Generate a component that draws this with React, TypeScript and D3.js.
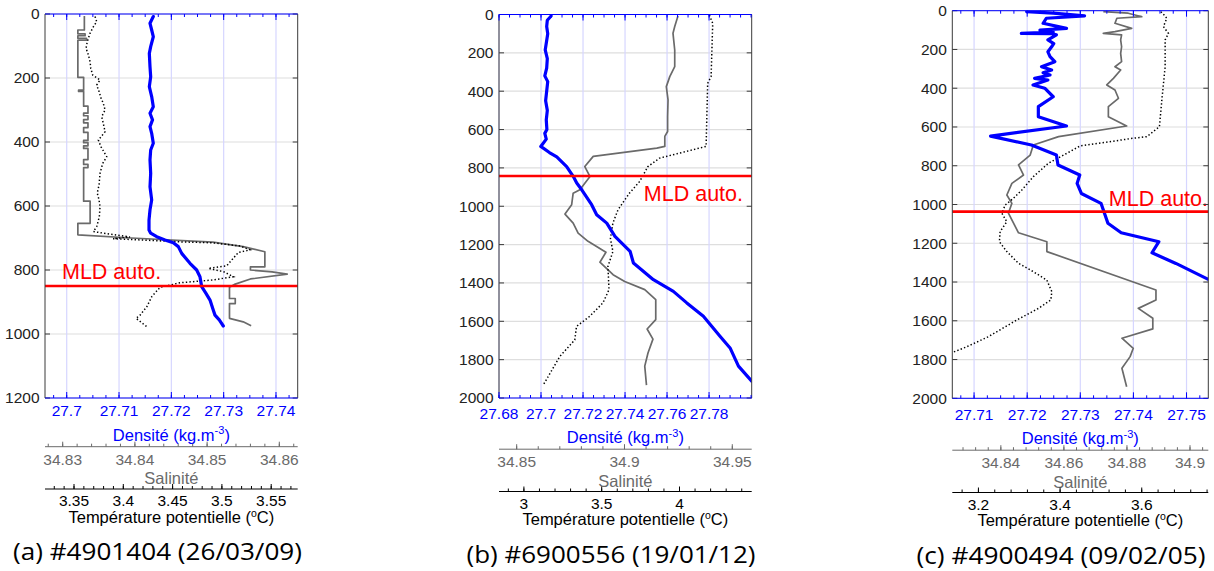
import React from 'react';
import * as d3 from 'd3';

// ---------------- DATA ----------------
// Panel (a) #4901404 : [depth (m), value]
const densA: [number, number][] = [
  [8, 27.71655], [29, 27.71592], [50, 27.71624], [71, 27.71655], [102, 27.71605], [123, 27.71579],
  [165, 27.71592], [196, 27.71605], [227, 27.71579], [258, 27.71624], [290, 27.71655], [310, 27.71592],
  [331, 27.7164], [352, 27.71592], [373, 27.71624], [404, 27.71655], [425, 27.71605], [456, 27.71592],
  [498, 27.71605], [540, 27.71592], [581, 27.71624], [612, 27.71592], [644, 27.71573], [675, 27.71573],
  [685, 27.71605], [696, 27.7172], [706, 27.71878], [715, 27.72037], [727, 27.72133], [748, 27.72198],
  [779, 27.72356], [800, 27.72484], [821, 27.72547], [852, 27.7258], [873, 27.72662], [894, 27.72739],
  [925, 27.72801], [941, 27.72834], [956, 27.72916], [975, 27.72993],
];
const salA: [number, number][] = [
  [6, 34.8330], [50, 34.8330], [50, 34.8321], [62, 34.8321], [62, 34.8331], [68, 34.8331], [68, 34.8321],
  [76, 34.8321], [76, 34.8333], [82, 34.8333], [82, 34.8321], [198, 34.8321], [198, 34.8329],
  [238, 34.8329], [238, 34.8322], [242, 34.8322], [242, 34.8329], [288, 34.8329], [288, 34.8335],
  [310, 34.8335], [310, 34.8329], [318, 34.8329], [318, 34.8335], [330, 34.8335], [330, 34.8329],
  [340, 34.8329], [340, 34.8335], [355, 34.8335], [355, 34.8329], [370, 34.8329], [370, 34.8335],
  [395, 34.8335], [395, 34.8329], [402, 34.8329], [402, 34.8335], [412, 34.8335], [412, 34.8329],
  [420, 34.8329], [420, 34.8335], [455, 34.8335], [455, 34.8329], [470, 34.8329], [470, 34.8335],
  [480, 34.8335], [480, 34.8329], [585, 34.8329], [585, 34.8338], [654, 34.8338], [654, 34.8321],
  [690, 34.8321], [700, 34.8395], [713, 34.8508], [727, 34.8550], [743, 34.8580], [790, 34.8580],
  [790, 34.8560], [800, 34.8560], [806, 34.8590], [813, 34.8611], [828, 34.8560], [844, 34.8539],
  [854, 34.8531], [889, 34.8531], [889, 34.8539], [905, 34.8539], [905, 34.8531], [951, 34.8531],
  [962, 34.8550], [974, 34.8561],
];
const tempA: [number, number][] = [
  [8, 3.3713], [24, 3.3730], [40, 3.3696], [60, 3.3663], [86, 3.3635], [107, 3.3622], [128, 3.3646],
  [149, 3.3663], [170, 3.3670], [191, 3.3690], [206, 3.3764], [222, 3.3730], [242, 3.3754],
  [263, 3.3774], [279, 3.3797], [300, 3.3815], [321, 3.3781], [342, 3.3797], [368, 3.3815],
  [394, 3.3747], [415, 3.3774], [446, 3.3832], [467, 3.3791], [498, 3.3764], [534, 3.3754],
  [560, 3.3736], [581, 3.3754], [602, 3.3764], [633, 3.3757], [665, 3.3730], [680, 3.3696],
  [697, 3.4068], [702, 3.3896], [712, 3.4575], [715, 3.4910], [725, 3.5185], [737, 3.5285],
  [745, 3.5167], [787, 3.5049], [795, 3.4863], [805, 3.5015], [821, 3.5116], [831, 3.4913],
  [840, 3.4575], [854, 3.4373], [883, 3.4289], [915, 3.4238], [941, 3.4170], [951, 3.4129],
  [977, 3.4238],
];

// Panel (b) #6900556
const densB: [number, number][] = [
  [8, 27.7048], [30, 27.7030], [63, 27.7027], [100, 27.7032], [150, 27.7025], [185, 27.7020],
  [230, 27.7030], [280, 27.7027], [320, 27.7018], [350, 27.7032], [400, 27.7027], [450, 27.7022],
  [500, 27.7030], [550, 27.7025], [600, 27.7028], [620, 27.7018], [650, 27.7025], [688, 27.6999],
  [720, 27.7040], [743, 27.7075], [793, 27.7122], [845, 27.7154], [879, 27.7170], [914, 27.7194],
  [992, 27.7241], [1044, 27.7265], [1088, 27.7313], [1157, 27.7352], [1235, 27.7424], [1296, 27.7440],
  [1383, 27.7535], [1444, 27.7630], [1504, 27.7694], [1574, 27.7773], [1678, 27.7852], [1739, 27.7900],
  [1834, 27.7940], [1912, 27.8003],
];
const salB: [number, number][] = [
  [8, 34.9248], [63, 34.9233], [98, 34.9225], [185, 34.9233], [272, 34.9233], [324, 34.9210],
  [376, 34.9194], [445, 34.9202], [532, 34.9200], [610, 34.9200], [636, 34.9187], [688, 34.9187],
  [697, 34.9150], [740, 34.8855], [793, 34.8816], [845, 34.8840], [914, 34.8793], [932, 34.8762],
  [992, 34.8755], [1041, 34.8724], [1088, 34.8762], [1140, 34.8785], [1183, 34.8831], [1240, 34.8914],
  [1292, 34.8886], [1357, 34.8947], [1392, 34.9001], [1435, 34.9094], [1487, 34.9145], [1591, 34.9145],
  [1640, 34.9105], [1693, 34.9132], [1765, 34.9109], [1834, 34.9094], [1933, 34.9102],
];
const tempB: [number, number][] = [
  [3, 4.192], [46, 4.2135], [324, 4.203], [359, 4.181], [688, 4.171], [749, 3.872], [793, 3.797],
  [871, 3.744], [931, 3.679], [1018, 3.605], [1088, 3.572], [1168, 3.556], [1236, 3.572],
  [1314, 3.540], [1435, 3.547], [1504, 3.508], [1574, 3.423], [1627, 3.338], [1697, 3.327],
  [1783, 3.231], [1933, 3.124],
];

// Panel (c) #4900494
const densC: [number, number][] = [
  [5, 27.7199], [13, 27.7249], [27, 27.7308], [39, 27.7236], [65, 27.7230], [91, 27.7274],
  [100, 27.7224], [110, 27.7249], [117, 27.7189], [118, 27.7245], [125, 27.7255], [151, 27.7239],
  [170, 27.7250], [186, 27.7246], [212, 27.7239], [237, 27.7243], [263, 27.7252], [289, 27.7227],
  [306, 27.7246], [320, 27.7230], [332, 27.7243], [349, 27.7214], [358, 27.7239], [383, 27.7211],
  [400, 27.7233], [444, 27.7249], [495, 27.7221], [547, 27.7221], [595, 27.7274], [647, 27.7131],
  [693, 27.7208], [745, 27.7255], [796, 27.7258], [848, 27.7299], [891, 27.7294], [943, 27.7302],
  [994, 27.7339], [1097, 27.7352], [1146, 27.7377], [1192, 27.7448], [1249, 27.7435], [1304, 27.7480],
  [1385, 27.7540],
];
const salC: [number, number][] = [
  [5, 34.8725], [13, 34.8804], [31, 34.8847], [39, 34.8768], [65, 34.8762], [91, 34.8815],
  [108, 34.8762], [117, 34.8725], [125, 34.8783], [151, 34.8780], [186, 34.8783], [220, 34.8780],
  [263, 34.8783], [289, 34.8762], [306, 34.8780], [349, 34.8757], [383, 34.8736], [409, 34.8762],
  [452, 34.8773], [495, 34.8741], [547, 34.8741], [595, 34.8799], [650, 34.8583], [693, 34.8503],
  [745, 34.8493], [796, 34.8456], [848, 34.8472], [891, 34.8435], [951, 34.8419], [994, 34.8435],
  [1045, 34.8424], [1146, 34.8456], [1192, 34.8546], [1243, 34.8546], [1441, 34.8892], [1493, 34.8892],
  [1536, 34.8836], [1587, 34.8882], [1642, 34.8882], [1690, 34.8784], [1742, 34.8820], [1785, 34.8810],
  [1845, 34.8784], [1940, 34.8799],
];
const tempC: [number, number][] = [
  [5, 3.6467], [22, 3.6548], [39, 3.6614], [82, 3.6531], [117, 3.6653], [151, 3.6573], [289, 3.6573],
  [461, 3.6492], [598, 3.6433], [650, 3.6125], [658, 3.5796], [698, 3.4491], [736, 3.4165],
  [787, 3.3714], [856, 3.3347], [925, 3.3063], [968, 3.2857], [1003, 3.2654], [1045, 3.2573],
  [1089, 3.2695], [1140, 3.2531], [1192, 3.2514], [1243, 3.2695], [1303, 3.2980], [1347, 3.3347],
  [1390, 3.3675], [1450, 3.3798], [1493, 3.3773], [1536, 3.3470], [1596, 3.2940], [1682, 3.2245],
  [1734, 3.1716], [1765, 3.1349],
];

// MLD depths
const mldDepths = [850, 842, 1037];

// Tick labels
const depthTicksA = [0, 200, 400, 600, 800, 1000, 1200];
const depthTicksBC = [0, 200, 400, 600, 800, 1000, 1200, 1400, 1600, 1800, 2000];
const densTicksA = [27.7, 27.71, 27.72, 27.73, 27.74];
const densTicksB = [27.68, 27.7, 27.72, 27.74, 27.76, 27.78];
const densTicksC = [27.71, 27.72, 27.73, 27.74, 27.75];
const salTicksA = [34.83, 34.84, 34.85, 34.86];
const salTicksB = [34.85, 34.9, 34.95];
const salTicksC = [34.84, 34.86, 34.88, 34.9];
const tempTicksA = [3.35, 3.4, 3.45, 3.5, 3.55];
const tempTicksB = [3, 3.5, 4];
const tempTicksC = [3.2, 3.4, 3.6];
const captions = ['(a) #4901404 (26/03/09)', '(b) #6900556 (19/01/12)', '(c) #4900494 (09/02/05)'];

// ---------------- LAYOUT ----------------
type Cfg = {
  left: number; right: number; top: number; bottom: number; dy: number;
  maxDepth: number; depthTicks: number[];
  densDom: [number, number]; densTicks: number[]; densMinor: number;
  salDom: [number, number]; salTicks: number[]; salMinor: number;
  tempDom: [number, number]; tempTicks: number[]; tempMinor: number;
  dens: [number, number][]; sal: [number, number][]; temp: [number, number][];
  mld: number; mldX: number; mldY: number; mldAnchor: 'start' | 'end';
  caption: string; capX: number;
};

const panels: Cfg[] = [
  {
    left: 45, right: 297.7, top: 14, bottom: 398, dy: 0, maxDepth: 1200, depthTicks: depthTicksA,
    densDom: [27.69585, 27.74415], densTicks: densTicksA, densMinor: 0.0025,
    salDom: [34.83 - 17.7 / 7220, 34.83 + 235 / 7220], salTicks: salTicksA, salMinor: 0.002,
    tempDom: [3.35 - 29 / 986, 3.35 + 223.7 / 986], tempTicks: tempTicksA, tempMinor: 0.01,
    dens: densA, sal: salA, temp: tempA,
    mld: mldDepths[0], mldX: 62, mldY: 278.5, mldAnchor: 'start', caption: captions[0], capX: 157.5,
  },
  {
    left: 499, right: 751.7, top: 14.5, bottom: 398, dy: 2.5, maxDepth: 2000, depthTicks: depthTicksBC,
    densDom: [27.68, 27.8003], densTicks: densTicksB, densMinor: 0.005,
    salDom: [34.8418, 34.959], salTicks: salTicksB, salMinor: 0.01,
    tempDom: [2.84, 4.464], tempTicks: tempTicksB, tempMinor: 0.1,
    dens: densB, sal: salB, temp: tempB,
    mld: mldDepths[1], mldX: 743, mldY: 200.5, mldAnchor: 'end', caption: captions[1], capX: 611,
  },
  {
    left: 952.3, right: 1208.3, top: 10.7, bottom: 398.3, dy: 3.5, maxDepth: 2000, depthTicks: depthTicksBC,
    densDom: [27.7059, 27.7541], densTicks: densTicksC, densMinor: 0.0025,
    salDom: [34.8246, 34.9058], salTicks: salTicksC, salMinor: 0.004,
    tempDom: [3.136, 3.763], tempTicks: tempTicksC, tempMinor: 0.04,
    dens: densC, sal: salC, temp: tempC,
    mld: mldDepths[2], mldX: 1208, mldY: 206, mldAnchor: 'end', caption: captions[2], capX: 1061,
  },
];

const FONT = '"Liberation Sans", Arial, Helvetica, sans-serif';
const BLUE = '#0000ff';
const GRAY = '#6a6a6a';
const AXIS = '#3a3a3a';
const TICK_FS = 15.5;
const LABEL_FS = 16.5;

function minorTicks(dom: [number, number], step: number): number[] {
  const out: number[] = [];
  const start = Math.ceil(dom[0] / step - 1e-6);
  for (let k = start; k * step <= dom[1] + 1e-9; k++) out.push(+(k * step).toFixed(6));
  return out;
}

function fmt(v: number) {
  return String(+v.toFixed(4));
}

const Panel: React.FC<{ c: Cfg; idx: number }> = ({ c, idx }) => {
  const y = d3.scaleLinear().domain([0, c.maxDepth]).range([c.top, c.bottom]);
  const xD = d3.scaleLinear().domain(c.densDom).range([c.left, c.right]);
  const xS = d3.scaleLinear().domain(c.salDom).range([c.left, c.right]);
  const xT = d3.scaleLinear().domain(c.tempDom).range([c.left, c.right]);
  const lineD = d3.line<[number, number]>().x((d) => xD(d[1])).y((d) => y(d[0]));
  const lineS = d3.line<[number, number]>().x((d) => xS(d[1])).y((d) => y(d[0]));
  const lineT = d3.line<[number, number]>().x((d) => xT(d[1])).y((d) => y(d[0]));
  const clipId = `clip${idx}`;
  const dy = c.dy;
  const yDensLab = 416.3 + dy;
  const yDensTitle = 440.5 + dy;
  const ySalAxis = 446.7 + dy;
  const ySalLab = 464.5 + dy;
  const ySalTitle = 484.3 + dy;
  const yTempAxis = 489 + dy;
  const yTempLab = 506 + dy;
  const yTempTitle = 522.5 + dy;
  const yCap = 560 + dy;
  const midX = (c.left + c.right) / 2;
  const dMinor = minorTicks(c.densDom, c.densMinor);
  const sMinor = minorTicks(c.salDom, c.salMinor);
  const tMinor = minorTicks(c.tempDom, c.tempMinor);
  return (
    <g fontFamily={FONT}>
      <defs>
        <clipPath id={clipId}>
          <rect x={c.left} y={c.top} width={c.right - c.left} height={c.bottom - c.top} />
        </clipPath>
      </defs>
      {/* grid */}
      {c.depthTicks.map((t) => (
        <line key={'hg' + t} x1={c.left} x2={c.right} y1={y(t)} y2={y(t)} stroke="#dedede" strokeWidth={1.2} />
      ))}
      {c.densTicks.map((t) => (
        <line key={'vg' + t} x1={xD(t)} x2={xD(t)} y1={c.top} y2={c.bottom} stroke="#d6d6ff" strokeWidth={1.2} />
      ))}
      {/* data */}
      <g clipPath={`url(#${clipId})`}>
        <path d={lineS(c.sal) || ''} fill="none" stroke={GRAY} strokeWidth={1.7} strokeLinejoin="round" />
        <path d={lineT(c.temp) || ''} fill="none" stroke="#000" strokeWidth={1.5} strokeDasharray="1.4 2.2" />
        <path d={lineD(c.dens) || ''} fill="none" stroke={BLUE} strokeWidth={3.2} strokeLinejoin="round" strokeLinecap="round" />
      </g>
      {/* MLD */}
      <line x1={c.left} x2={c.right} y1={y(c.mld)} y2={y(c.mld)} stroke="#ff0000" strokeWidth={2.6} />
      <text x={c.mldX} y={c.mldY} fill="#ff0000" fontSize={21.5} textAnchor={c.mldAnchor}>MLD auto.</text>
      {/* frame: left & right */}
      <line x1={c.left} x2={c.left} y1={c.top} y2={c.bottom} stroke={AXIS} strokeWidth={1} />
      <line x1={c.right} x2={c.right} y1={c.top} y2={c.bottom} stroke={AXIS} strokeWidth={1} />
      {c.depthTicks.map((t) => (
        <g key={'dt' + t}>
          <line x1={c.left} x2={c.left + 5} y1={y(t)} y2={y(t)} stroke={AXIS} />
          <line x1={c.right} x2={c.right - 5} y1={y(t)} y2={y(t)} stroke={AXIS} />
          <text x={c.left - 5.5} y={y(t)} dy="0.35em" textAnchor="end" fontSize={TICK_FS} fill="#222">{t}</text>
        </g>
      ))}
      {/* density axis top & bottom */}
      <line x1={c.left} x2={c.right} y1={c.top} y2={c.top} stroke={BLUE} strokeWidth={1} />
      <line x1={c.left} x2={c.right} y1={c.bottom} y2={c.bottom} stroke={BLUE} strokeWidth={1} />
      {dMinor.map((t) => (
        <g key={'dm' + t}>
          <line x1={xD(t)} x2={xD(t)} y1={c.top} y2={c.top + 3} stroke={BLUE} />
          <line x1={xD(t)} x2={xD(t)} y1={c.bottom} y2={c.bottom - 3} stroke={BLUE} />
        </g>
      ))}
      {c.densTicks.map((t) => (
        <g key={'dM' + t}>
          <line x1={xD(t)} x2={xD(t)} y1={c.top} y2={c.top + 6} stroke={BLUE} />
          <line x1={xD(t)} x2={xD(t)} y1={c.bottom} y2={c.bottom - 6} stroke={BLUE} />
          <text x={xD(t)} y={yDensLab} textAnchor="middle" fontSize={TICK_FS} fill={BLUE}>{fmt(t)}</text>
        </g>
      ))}
      <text x={midX} y={yDensTitle} textAnchor="middle" fontSize={LABEL_FS} fill={BLUE}>
        Densité (kg.m<tspan dy={-6.5} fontSize={11}>-3</tspan><tspan dy={6.5}>)</tspan>
      </text>
      {/* salinity axis */}
      <line x1={c.left} x2={c.right} y1={ySalAxis} y2={ySalAxis} stroke={GRAY} strokeWidth={1} />
      {sMinor.map((t) => (
        <line key={'sm' + t} x1={xS(t)} x2={xS(t)} y1={ySalAxis} y2={ySalAxis - 3} stroke={GRAY} />
      ))}
      {c.salTicks.map((t) => (
        <g key={'sM' + t}>
          <line x1={xS(t)} x2={xS(t)} y1={ySalAxis} y2={ySalAxis - 5} stroke={GRAY} />
          <text x={xS(t)} y={ySalLab} textAnchor="middle" fontSize={TICK_FS} fill={GRAY}>{fmt(t)}</text>
        </g>
      ))}
      <text x={midX} y={ySalTitle} textAnchor="middle" fontSize={LABEL_FS} fill={GRAY}>Salinité</text>
      {/* temperature axis */}
      <line x1={c.left} x2={c.right} y1={yTempAxis} y2={yTempAxis} stroke="#000" strokeWidth={1} />
      {tMinor.map((t) => (
        <line key={'tm' + t} x1={xT(t)} x2={xT(t)} y1={yTempAxis} y2={yTempAxis - 3} stroke="#000" />
      ))}
      {c.tempTicks.map((t) => (
        <g key={'tM' + t}>
          <line x1={xT(t)} x2={xT(t)} y1={yTempAxis} y2={yTempAxis - 5} stroke="#000" />
          <text x={xT(t)} y={yTempLab} textAnchor="middle" fontSize={TICK_FS} fill="#000">{fmt(t)}</text>
        </g>
      ))}
      <text x={midX} y={yTempTitle} textAnchor="middle" fontSize={LABEL_FS} fill="#000">
        Température potentielle (<tspan dy={-6} fontSize={10.5}>o</tspan><tspan dy={6}>C)</tspan>
      </text>
      {/* caption */}
      <text x={c.capX} y={yCap} textAnchor="middle" fontSize={24} fill="#000"
        fontFamily='"Open Sans", "DejaVu Sans", sans-serif' fontWeight={400}
        textLength={289} lengthAdjust="spacingAndGlyphs">{c.caption}</text>
    </g>
  );
};

export default function App() {
  return (
    <svg width={1214} height={571} style={{ position: 'absolute', left: 0, top: 0, background: '#fff' }}>
      <rect x={0} y={0} width={1214} height={571} fill="#fff" />
      {panels.map((c, i) => (
        <Panel key={i} c={c} idx={i} />
      ))}
    </svg>
  );
}
